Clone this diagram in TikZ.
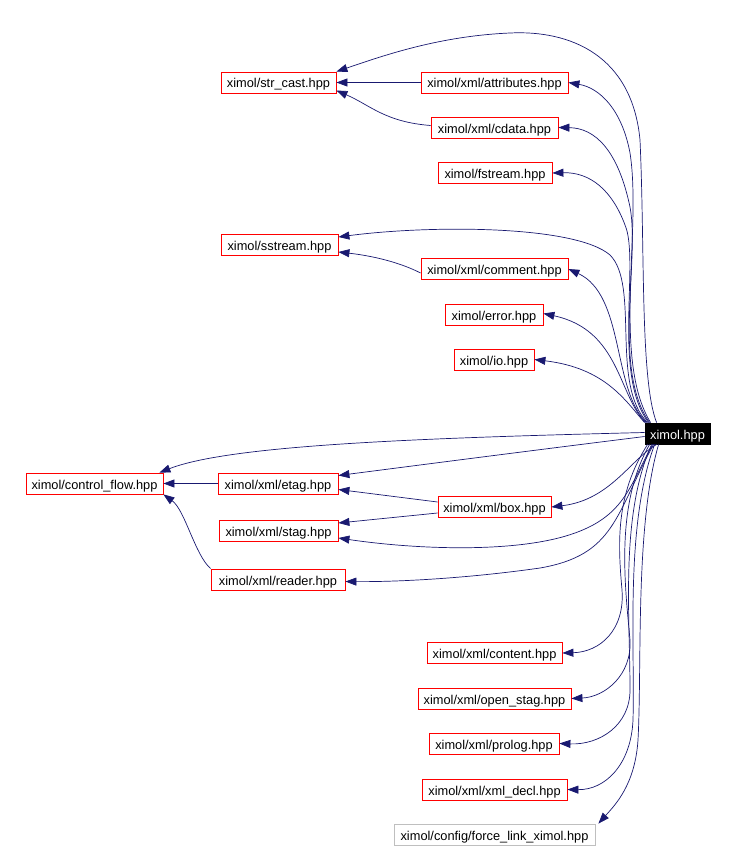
\documentclass[tikz,border=0pt]{standalone}
\usepackage{fontspec}
\setmainfont{Liberation Sans}
\usetikzlibrary{arrows.meta}
\definecolor{edgeblue}{HTML}{191970}
\tikzset{
  file/.style={draw=red, line width=0.8pt, fill=white, font=\fontsize{12.8}{14}\selectfont, inner sep=0pt,
               minimum height=21pt, text height=11pt, text depth=0pt},
  wd/.style={minimum width=#1pt},
  nodoc/.style={draw=black!25},
  root/.style={fill=black, draw=black, text=white},
  dep/.style={draw=edgeblue, line width=0.7pt, -{Triangle[length=11pt,width=8pt]}}
}

\begin{document}
\begin{tikzpicture}[x=1pt, y=-1pt]
\useasboundingbox (0,0) rectangle (735,848);
% headers
\node[file,wd=115] (strcast) at (278.5,82.5) {ximol/str\_cast.hpp};
\node[file,wd=147] (attrs) at (494.5,82.5) {ximol/xml/attributes.hpp};
\node[file,wd=127] (cdata) at (494.5,127.5) {ximol/xml/cdata.hpp};
\node[file,wd=114] (fstream) at (495,173) {ximol/fstream.hpp};
\node[file,wd=117] (sstream) at (279.5,245) {ximol/sstream.hpp};
\node[file,wd=147] (comment) at (494.5,269) {ximol/xml/comment.hpp};
\node[file,wd=98] (error) at (494,314.5) {ximol/error.hpp};
\node[file,wd=80] (io) at (494,359.5) {ximol/io.hpp};
\node[file,root,wd=65] (ximol) at (677.5,433.5) {ximol.hpp};
\node[file,wd=137] (ctrlflow) at (94.5,483.5) {ximol/control\_flow.hpp};
\node[file,wd=120] (etag) at (278,483.5) {ximol/xml/etag.hpp};
\node[file,wd=119] (stag) at (278.5,531) {ximol/xml/stag.hpp};
\node[file,wd=134] (reader) at (278,579.5) {ximol/xml/reader.hpp};
\node[file,wd=113] (box) at (494.5,507) {ximol/xml/box.hpp};
\node[file,wd=135] (content) at (494.5,653) {ximol/xml/content.hpp};
\node[file,wd=153] (openstag) at (494.5,698.5) {ximol/xml/open\_stag.hpp};
\node[file,wd=130] (prolog) at (494,743.5) {ximol/xml/prolog.hpp};
\node[file,wd=145] (xmldecl) at (494.5,789.5) {ximol/xml/xml\_decl.hpp};
\node[file,nodoc,wd=201] (forcelink) at (494.5,834.5) {ximol/config/force\_link\_ximol.hpp};

% ximol.hpp -> upper files
\draw[dep] ([xshift=12pt]ximol.north west) .. controls (640,380) and (645,250) .. (640,140)
  .. controls (632,55) and (570,30) .. (510,33) .. controls (440,36) and (385,55) .. (strcast.north east);
\draw[dep] ([xshift=6pt]ximol.north west) .. controls (612,360) and (642,230) .. (630,153)
  .. controls (622,110) and (600,88) .. (attrs.east);
\draw[dep] ([xshift=5pt]ximol.north west) .. controls (612,370) and (640,260) .. (630,207)
  .. controls (618,150) and (595,128) .. (cdata.east);
\draw[dep] ([xshift=4pt]ximol.north west) .. controls (612,375) and (640,260) .. (625,225)
  .. controls (612,190) and (590,172) .. (fstream.east);
\draw[dep] ([xshift=3pt]ximol.north west) .. controls (610,385) and (640,285) .. (610,255)
  .. controls (575,225) and (430,225) .. ([yshift=8pt]sstream.east);
\draw[dep] ([xshift=2pt]ximol.north west) .. controls (612,390) and (625,295) .. (comment.east);
\draw[dep] ([xshift=1pt]ximol.north west) .. controls (618,395) and (620,330) .. ([yshift=1pt]error.east);
\draw[dep] (ximol.north west) .. controls (625,400) and (605,368) .. (io.east);

% ximol.hpp -> left files
\draw[dep] ([yshift=1pt]ximol.west) .. controls (420,438) and (230,445) .. ([xshift=-4pt]ctrlflow.north east);
\draw[dep] ([yshift=-3pt]ximol.west) .. controls (520,452) and (420,465) .. ([yshift=8pt]etag.east);
\draw[dep] ([xshift=12pt]ximol.south west) .. controls (630,460) and (610,500) .. (box.east);
\draw[dep] ([xshift=8pt]ximol.south west) .. controls (630,485) and (625,515) .. (575,533)
  .. controls (520,553) and (420,550) .. ([yshift=-7pt]stag.east);
\draw[dep] ([xshift=9pt]ximol.south west) .. controls (615,515) and (615,555) .. (540,568)
  .. controls (470,578) and (400,582) .. ([yshift=-2pt]reader.east);

% ximol.hpp -> lower files
\draw[dep] ([xshift=3pt]ximol.south west) .. controls (615,495) and (618,545) .. (622,590)
  .. controls (625,630) and (600,652) .. (content.east);
\draw[dep] ([xshift=5pt]ximol.south west) .. controls (615,505) and (625,585) .. (630,640)
  .. controls (632,675) and (605,697) .. (openstag.east);
\draw[dep] ([xshift=7pt]ximol.south west) .. controls (620,515) and (630,615) .. (630,690)
  .. controls (630,725) and (600,745) .. (prolog.east);
\draw[dep] ([xshift=10pt]ximol.south west) .. controls (625,525) and (635,645) .. (633,720)
  .. controls (631,765) and (605,790) .. (xmldecl.east);
\draw[dep] ([xshift=14pt]ximol.south west) .. controls (635,525) and (642,665) .. (638,740)
  .. controls (635,785) and (615,805) .. ([xshift=3pt]forcelink.north east);

% file -> file
\draw[dep] (attrs) -- (strcast);
\draw[dep] ([yshift=2pt]cdata.west) .. controls (385,122) and (370,105) .. ([yshift=-8pt]strcast.east);
\draw[dep] ([yshift=-4pt]comment.west) .. controls (395,260) and (365,255) .. ([yshift=-7pt]sstream.east);
\draw[dep] (etag) -- (ctrlflow);
\draw[dep] (reader.north west) .. controls (195,555) and (185,510) .. (ctrlflow.south east);
\draw[dep] ([yshift=5pt]box.west) -- ([yshift=-6pt]etag.east);
\draw[dep] ([yshift=-6pt]box.west) -- ([yshift=8pt]stag.east);
\end{tikzpicture}
\end{document}
